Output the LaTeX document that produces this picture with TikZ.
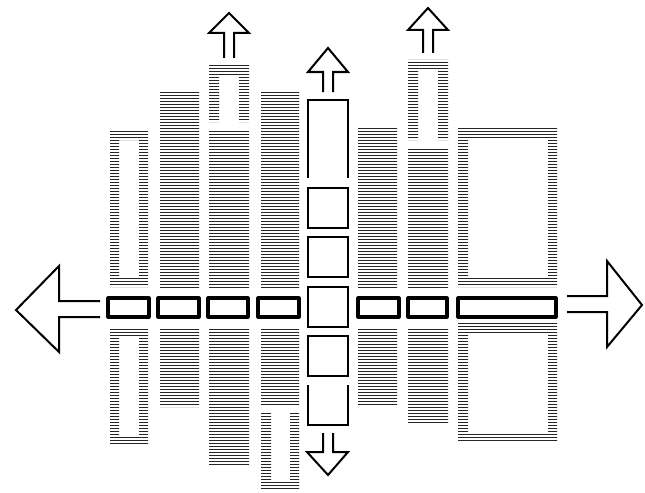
\documentclass[tikz,border=0pt]{standalone}

\begin{document}
\begin{tikzpicture}[x=0.75pt,y=-0.75pt,
  hatchline/.style={draw=black!85,line width=1.1pt},
  cell/.style={draw,line width=2.3pt,line join=round},
  frame/.style={draw,line width=1.7pt},
  blockarrow/.style={draw,line width=1.5pt,line join=miter}]
  \useasboundingbox (0,0) rectangle (645,492);
  % all hatched areas share one clip; the holes come from the even odd rule
  \begin{scope}[even odd rule]
    \clip
      % solid bars
      (160,92) rectangle (199,289)   (160,327) rectangle (199,407)
      (209,130) rectangle (249,289)  (209,327) rectangle (249,465)
      (261,91) rectangle (299,289)   (261,327) rectangle (299,405)
      (358,128) rectangle (397,289)  (358,327) rectangle (397,405)
      (408,148) rectangle (448,289)  (408,327) rectangle (448,423)
      % hollow frames
      (110,131) rectangle (148,287)  (119,140) rectangle (139,278)
      (110,328) rectangle (148,445)  (119,337) rectangle (139,436)
      (458,128) rectangle (557,287)  (468,138) rectangle (548,277)
      (458,323) rectangle (557,442)  (468,333) rectangle (548,432)
      % caps open at the bottom
      (209,122) -- (209,65) -- (249,65) -- (249,122) -- (239,122)
        -- (239,76) -- (219,76) -- (219,122) -- cycle
      (408,140) -- (408,60) -- (448,60) -- (448,140) -- (438,140)
        -- (438,70) -- (418,70) -- (418,140) -- cycle
      % trough open at the top
      (261,412) -- (261,490) -- (299,490) -- (299,412) -- (290,412)
        -- (290,482) -- (271,482) -- (271,412) -- cycle;
    \foreach \y in {59.5,62.5,...,492} {
      \draw[hatchline] (100,\y) -- (565,\y);
    }
  \end{scope}

  % cells along the axis
  \foreach \xa/\xb in {108/149, 158/199, 208/248, 258/299, 358/399, 408/447, 458/556} {
    \draw[cell] (\xa,298) rectangle (\xb,317);
  }
  % central column
  \draw[frame] (308,178) -- (308,100) -- (348,100) -- (348,178);
  \foreach \ya in {188,237,287,336} {
    \draw[frame] (308,\ya) rectangle (348,{\ya+40});
  }
  \draw[frame] (308,385) -- (308,425) -- (348,425) -- (348,385);

  % block arrows
  \foreach \xm/\ytip/\ybase/\yend in {229/13/33/58, 328/48/72/92, 428/8/30/53} {
    \draw[blockarrow] ({\xm-5},\yend) -- ({\xm-5},\ybase) -- ({\xm-20},\ybase)
      -- (\xm,\ytip) -- ({\xm+20},\ybase) -- ({\xm+5},\ybase) -- ({\xm+5},\yend);
  }
  \draw[blockarrow] (323,433) -- (323,452) -- (307,452) -- (328,475)
    -- (348,452) -- (333,452) -- (333,433);
  \draw[blockarrow] (100,301) -- (59,301) -- (59,266) -- (16,310)
    -- (59,352) -- (59,317) -- (100,317);
  \draw[blockarrow] (567,296) -- (607,296) -- (607,261) -- (642,305)
    -- (607,347) -- (607,312) -- (567,312);
\end{tikzpicture}
\end{document}
